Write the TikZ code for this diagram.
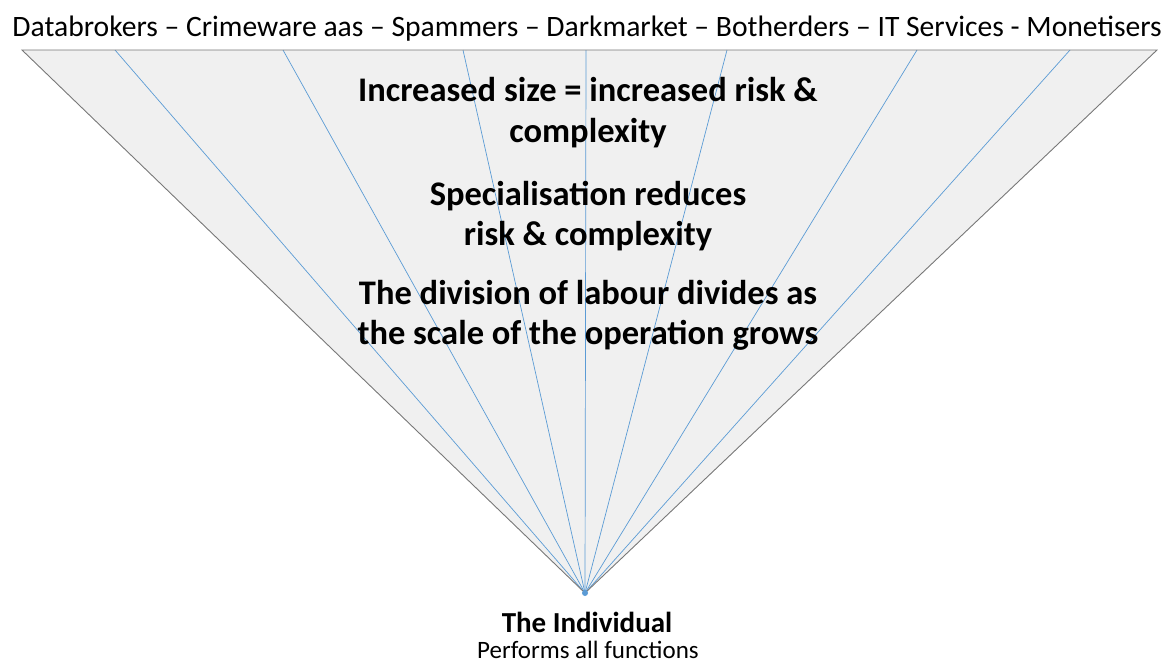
\documentclass[tikz,border=0pt]{standalone}
\usepackage{fontspec}
\setmainfont{Carlito}
\definecolor{fillgray}{RGB}{240,240,240}
\definecolor{edgegray}{RGB}{120,120,120}
\definecolor{lineblue}{RGB}{91,155,213}
\begin{document}
\begin{tikzpicture}[x=1pt,y=-1pt,
  edge/.style={draw=edgegray,line width=0.9pt},
  ray/.style={draw=lineblue,line width=0.7pt},
  bigtext/.style={font=\fontsize{34.5}{40}\selectfont\bfseries,align=center,inner sep=0pt,anchor=base},
  toptext/.style={font=\fontsize{29.6}{30}\selectfont,inner sep=0pt,anchor=base}]
\useasboundingbox (0,0) rectangle (1166,664);
\coordinate (apex) at (585,593);
\coordinate (tl) at (22,50);
\coordinate (tr) at (1157,50);
\foreach \n/\x in {r1/115,r2/283,r3/463,r4/586,r5/727,r6/917,r7/1070}{
  \coordinate (\n) at (\x,50);
}
\fill[fillgray] (tl) -- (tr) -- (apex) -- cycle;
\foreach \n in {r1,r2,r3,r4,r5,r6,r7}{
  \draw[ray] (apex) -- (\n);
}
\draw[edge] (apex) -- (tl) -- (tr) -- (apex);
\fill[lineblue] (apex) circle (3);
\node[toptext] (top) at (587,36) {Databrokers – Crimeware aas – Spammers – Darkmarket – Botherders – IT Services - Monetisers};
\node[bigtext] (t1) at (588,101) {Increased size = increased risk \&};
\node[bigtext] (t2) at (588,142) {complexity};
\node[bigtext] (t3) at (588,205) {Specialisation reduces};
\node[bigtext] (t4) at (588,245) {risk \& complexity};
\node[bigtext] (t5) at (588,304) {The division of labour divides as};
\node[bigtext] (t6) at (588,344) {the scale of the operation grows};
\node[font=\fontsize{29}{30}\selectfont\bfseries,inner sep=0pt,anchor=base] (ind) at (587,632) {The Individual};
\node[font=\fontsize{25}{28}\selectfont,inner sep=0pt,anchor=base] (perf) at (588,658) {Performs all functions};
\end{tikzpicture}
\end{document}
